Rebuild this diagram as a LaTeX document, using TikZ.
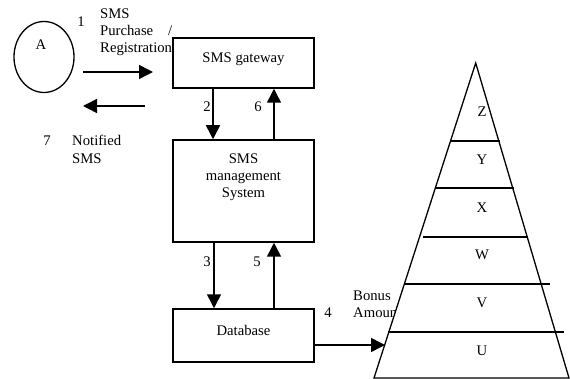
\documentclass[tikz,border=0pt]{standalone}
\usepackage{fontspec}
\setmainfont{Liberation Serif}
\usetikzlibrary{arrows.meta,shapes.geometric}
\begin{document}
\begin{tikzpicture}[x=1pt,y=-1pt,
  every node/.style={font=\fontsize{14.7}{17}\selectfont, inner sep=0pt},
  txt/.style={anchor=base west},
  ctxt/.style={anchor=base},
  boxnode/.style={draw, line width=1.5pt, minimum width=141pt, anchor=center},
  arr/.style={line width=1.5pt, -{Triangle[length=14pt,width=14pt]}},
  tier/.style={line width=1.3pt}]
\useasboundingbox (0,0) rectangle (570,379);
% actor
\node[draw, ellipse, line width=1.3pt, minimum width=60pt, minimum height=71pt] (A) at (44,57) {};
\node[ctxt] (Alab) at (41,50) {A};
% boxes
\node[boxnode, minimum height=50pt] (gw) at (243.5,63) {};
\node[boxnode, minimum height=102pt] (mg) at (243.5,191) {};
\node[boxnode, minimum height=53pt] (db) at (243.5,335.5) {};
\node[ctxt] (gwt) at (243.5,63) {SMS gateway};
\node[ctxt] (mg1) at (243.5,164) {SMS};
\node[ctxt] (mg2) at (243.5,181) {management};
\node[ctxt] (mg3) at (243.5,198) {System};
\node[ctxt] (dbt) at (243.5,335) {Database};
% labels of step 1 and 7
\node[ctxt] (n1) at (81,27) {1};
\node[txt] (t1a) at (100,19) {SMS};
\node[txt] (t1b) at (100,36) {Purchase};
\node[txt] (t1c) at (168,36) {/};
\node[txt] (t1d) at (100,53) {Registration};
\node[ctxt] (n7) at (47,146) {7};
\node[txt] (t7a) at (72,146) {Notified};
\node[txt] (t7b) at (72,164) {SMS};
% arrows 1 and 7
\coordinate (a1s) at (83,72);
\coordinate (a1e) at (153,72);
\coordinate (a7s) at (145,106);
\coordinate (a7e) at (83,106);
\draw[arr] (a1s) -- (a1e);
\draw[arr] (a7s) -- (a7e);
% vertical arrows
\draw[arr] ([xshift=-30.5pt]gw.south) -- ([xshift=-30.5pt]mg.north);
\draw[arr] ([xshift=30.5pt]mg.north) -- ([xshift=30.5pt]gw.south);
\draw[arr] ([xshift=-29.5pt]mg.south) -- ([xshift=-29.5pt]db.north);
\draw[arr] ([xshift=30.5pt]db.north) -- ([xshift=30.5pt]mg.south);
\node[ctxt] (n2) at (207,112) {2};
\node[ctxt] (n6) at (258,112) {6};
\node[ctxt] (n3) at (207,266) {3};
\node[ctxt] (n5) at (257,266) {5};
% step 4
\node[ctxt] (n4) at (328,317) {4};
\node[txt] (b1) at (353,300) {Bonus};
\node[txt] (b2) at (353,317) {Amount};
% pyramid
\coordinate (apex) at (475.7,63);
\coordinate (bl) at (374,378);
\coordinate (br) at (569,378);
\draw[tier, fill=white] (apex) -- (bl) -- (br) -- cycle;
\draw[tier] (451,141) -- (500,141);
\draw[tier] (436,188) -- (514,188);
\draw[tier] (423,237) -- (528,237);
\draw[tier] (405,284) -- (550,284);
\draw[tier] (388,332) -- (564,332);
\node[ctxt] (z) at (482,117) {Z};
\node[ctxt] (y) at (482,165) {Y};
\node[ctxt] (x) at (482,213) {X};
\node[ctxt] (w) at (482,260) {W};
\node[ctxt] (v) at (482,308) {V};
\node[ctxt] (u) at (482,355) {U};
\coordinate (pyin) at (385,345);
\draw[arr] ([yshift=-9.5pt]db.east) -- (pyin);
\end{tikzpicture}
\end{document}
